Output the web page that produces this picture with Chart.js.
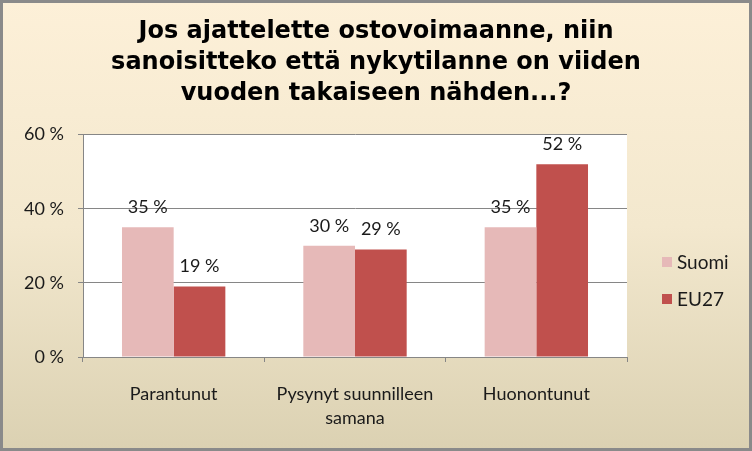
<!DOCTYPE html>
<html>
<head>
<meta charset="utf-8">
<script src="https://cdn.jsdelivr.net/npm/chart.js@4/dist/chart.umd.min.js"></script>
<style>
  html, body { margin: 0; padding: 0; background: #fff; }
  #wrap { width: 752px; height: 451px; }
</style>
</head>
<body>
<div id="wrap"><canvas id="monGraphe" width="752" height="451"></canvas></div>
<script>
// donnees
var categories = [["Parantunut"], ["Pysynyt suunnilleen", "samana"], ["Huonontunut"]];
var suomi = [35, 30, 35];
var eu27 = [19, 29, 52];
var nomsSeries = ["Suomi", "EU27"];
var titre = ["Jos ajattelette ostovoimaanne, niin", "sanoisitteko että nykytilanne on viiden", "vuoden takaiseen nähden...?"];
var yTicks = [0, 20, 40, 60];

var texteFont = "Lato, 'Open Sans', sans-serif";

// fond degrade + cadre + zone blanche
var fondPlugin = {
  id: "fond",
  beforeDraw: function(chart) {
    var c = chart.ctx, w = chart.width, h = chart.height;
    c.save();
    var g = c.createLinearGradient(0, 0, 0, h);
    g.addColorStop(0, "#FDF0D8");
    g.addColorStop(0.5, "#F3E8CE");
    g.addColorStop(1, "#DBD1B2");
    c.fillStyle = g;
    c.fillRect(0, 0, w, h);
    c.strokeStyle = "#8a8a8a";
    c.lineWidth = 3;
    c.strokeRect(1.5, 1.5, w - 3, h - 3);
    var a = chart.chartArea;
    c.fillStyle = "#ffffff";
    c.fillRect(a.left, a.top, a.right - a.left, a.bottom - a.top);
    c.restore();
  }
};

// etiquettes de valeur au dessus des barres + legende
var etiquettesPlugin = {
  id: "etiquettes",
  afterDatasetsDraw: function(chart) {
    var c = chart.ctx;
    c.save();
    c.font = "18px " + texteFont;
    c.fillStyle = "#1a1a1a";
    c.textAlign = "center";
    c.textBaseline = "middle";
    chart.data.datasets.forEach(function(ds, i) {
      var meta = chart.getDatasetMeta(i);
      meta.data.forEach(function(bar, j) {
        c.fillText(ds.data[j] + " %", bar.x, bar.y - 20);
      });
    });
    // legende
    var lx = 662, ly = [262, 299];
    c.textAlign = "left";
    c.font = "19px " + texteFont;
    chart.data.datasets.forEach(function(ds, i) {
      c.fillStyle = ds.backgroundColor;
      c.fillRect(lx, ly[i] - 5, 10, 10);
      c.fillStyle = "#1a1a1a";
      c.fillText(ds.label, lx + 15, ly[i] + 1);
    });
    c.restore();
  }
};

const ctx = document.getElementById("monGraphe");
var chart = new Chart(ctx, {
  type: "bar",
  data: {
    labels: categories,
    datasets: [
      { label: nomsSeries[0], data: suomi, backgroundColor: "#E6B9B8", categoryPercentage: 0.57, barPercentage: 1, yAxisID: "y" },
      { label: nomsSeries[1], data: eu27, backgroundColor: "#C0504D", categoryPercentage: 0.57, barPercentage: 1, yAxisID: "y" }
    ]
  },
  options: {
    responsive: false,
    animation: false,
    devicePixelRatio: 1,
    layout: { padding: 0 },
    plugins: {
      legend: { display: false },
      tooltip: { enabled: false },
      title: {
        display: true,
        text: titre,
        color: "#000",
        font: { family: "'DejaVu Sans', sans-serif", size: 24, weight: "bold", lineHeight: 1.3 },
        padding: { top: 16, bottom: 25 }
      }
    },
    scales: {
      y: {
        min: 0, max: 60,
        afterFit: function(s) { s.width = 83; },
        afterBuildTicks: function(s) { s.ticks = yTicks.map(function(v) { return { value: v }; }); },
        ticks: {
          padding: 14,
          color: "#1a1a1a",
          font: { family: texteFont, size: 18 },
          callback: function(v) { return v + " %"; }
        },
        grid: { color: "#868686", tickLength: 5 },
        border: { color: "#868686" }
      },
      // place reservee pour la legende
      yLegende: {
        position: "right",
        afterFit: function(s) { s.width = 125; },
        ticks: { display: false },
        grid: { display: false },
        border: { display: false }
      },
      x: {
        afterFit: function(s) { s.height = 94; },
        ticks: {
          padding: 20,
          color: "#1a1a1a",
          font: { family: texteFont, size: 18, lineHeight: 1.33 }
        },
        grid: { drawOnChartArea: false, color: "#868686", tickLength: 5 },
        border: { color: "#868686" }
      }
    }
  },
  plugins: [fondPlugin, etiquettesPlugin]
});
</script>
</body>
</html>
